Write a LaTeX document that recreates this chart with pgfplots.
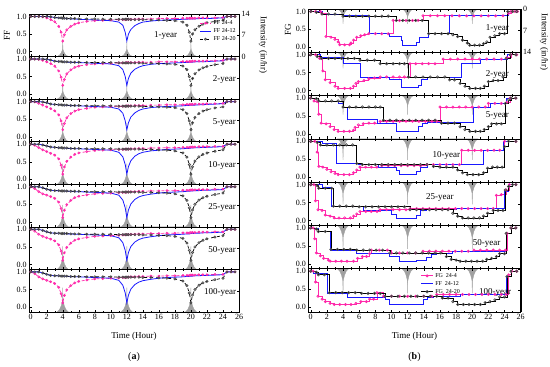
\documentclass[border=0pt]{standalone}
\usepackage{fontspec}
\setmainfont{Liberation Serif}
\usepackage{pgfplots}
\usepackage{pgfplotstable}
\pgfplotsset{compat=1.18}
\definecolor{cpink}{RGB}{255,40,170}
\definecolor{cblue}{RGB}{25,25,255}
\definecolor{crain}{RGB}{160,160,160}

% ---------------- rain hyetographs (in/hr) ----------------
\pgfplotstableread{
t I1 I2 I5 I10 I25 I50 I100
3.3 0 0 0 0 0 0 0
3.6 0.48 0.52 0.62 0.68 0.72 0.76 0.8
3.8 1.2 1.3 1.55 1.7 1.8 1.9 2.0
3.93 2.0 2.18 2.6 2.86 3.02 3.19 3.36
3.98 2.4 2.6 3.1 3.4 3.6 3.8 4.0
4 4.8 5.2 6.2 6.8 7.2 7.6 8.0
4.02 2.4 2.6 3.1 3.4 3.6 3.8 4.0
4.07 2.0 2.18 2.6 2.86 3.02 3.19 3.36
4.2 1.2 1.3 1.55 1.7 1.8 1.9 2.0
4.4 0.48 0.52 0.62 0.68 0.72 0.76 0.8
4.7 0 0 0 0 0 0 0
11.3 0 0 0 0 0 0 0
11.6 0.48 0.52 0.62 0.68 0.72 0.76 0.8
11.8 1.2 1.3 1.55 1.7 1.8 1.9 2.0
11.93 2.0 2.18 2.6 2.86 3.02 3.19 3.36
11.98 2.4 2.6 3.1 3.4 3.6 3.8 4.0
12 4.8 5.2 6.2 6.8 7.2 7.6 8.0
12.02 2.4 2.6 3.1 3.4 3.6 3.8 4.0
12.07 2.0 2.18 2.6 2.86 3.02 3.19 3.36
12.2 1.2 1.3 1.55 1.7 1.8 1.9 2.0
12.4 0.48 0.52 0.62 0.68 0.72 0.76 0.8
12.7 0 0 0 0 0 0 0
19.3 0 0 0 0 0 0 0
19.6 0.48 0.52 0.62 0.68 0.72 0.76 0.8
19.8 1.2 1.3 1.55 1.7 1.8 1.9 2.0
19.93 2.0 2.18 2.6 2.86 3.02 3.19 3.36
19.98 2.4 2.6 3.1 3.4 3.6 3.8 4.0
20 4.8 5.2 6.2 6.8 7.2 7.6 8.0
20.02 2.4 2.6 3.1 3.4 3.6 3.8 4.0
20.07 2.0 2.18 2.6 2.86 3.02 3.19 3.36
20.2 1.2 1.3 1.55 1.7 1.8 1.9 2.0
20.4 0.48 0.52 0.62 0.68 0.72 0.76 0.8
20.7 0 0 0 0 0 0 0
}\rain

% ---------------- FF (left) ----------------
\pgfplotstableread{
t p b k
0 1.00 1.00 1.00
0.5 1.00 1.00 1.00
1 1.00 1.00 1.00
1.5 0.99 1.00 1.00
2 0.96 1.00 1.00
2.5 0.91 0.99 0.99
3 0.85 0.97 0.97
3.5 0.72 0.96 0.96
3.8 0.55 0.96 0.96
4 0.30 0.95 0.95
4.2 0.48 0.95 0.95
4.5 0.62 0.94 0.94
5 0.72 0.93 0.94
5.5 0.78 0.93 0.94
6 0.82 0.92 0.93
7 0.86 0.91 0.93
8 0.88 0.90 0.93
9 0.89 0.89 0.92
10 0.90 0.88 0.92
11 0.91 0.84 0.92
11.5 0.91 0.75 0.92
11.8 0.91 0.55 0.92
12 0.92 0.30 0.92
12.2 0.92 0.50 0.92
12.5 0.92 0.63 0.91
13 0.92 0.74 0.91
13.5 0.93 0.80 0.91
14 0.93 0.84 0.91
15 0.93 0.87 0.90
16 0.94 0.89 0.90
17 0.94 0.90 0.89
18 0.94 0.91 0.88
19 0.95 0.92 0.84
19.5 0.95 0.92 0.75
19.8 0.95 0.93 0.55
20 0.95 0.93 0.30
20.2 0.95 0.93 0.50
20.5 0.95 0.93 0.62
21 0.96 0.94 0.72
21.5 0.96 0.94 0.78
22 0.96 0.94 0.82
23 0.96 0.95 0.86
24 0.97 0.96 0.89
24.5 1.00 1.00 1.00
25 1.00 1.00 1.00
25.5 1.00 1.00 1.00
}\FFa
\pgfplotstableread{
t p b k
0 1.00 1.00 1.00
0.5 1.00 1.00 1.00
1 0.99 1.00 1.00
1.5 0.96 1.00 1.00
2 0.92 0.99 0.99
2.5 0.87 0.97 0.97
3 0.80 0.94 0.94
3.5 0.66 0.93 0.93
3.8 0.48 0.93 0.93
4 0.25 0.92 0.92
4.2 0.42 0.92 0.92
4.5 0.58 0.91 0.92
5 0.69 0.91 0.91
5.5 0.76 0.90 0.91
6 0.80 0.90 0.91
7 0.84 0.89 0.90
8 0.86 0.88 0.90
9 0.87 0.87 0.90
10 0.88 0.86 0.90
11 0.89 0.81 0.89
11.5 0.89 0.70 0.89
11.8 0.89 0.50 0.89
12 0.90 0.25 0.89
12.2 0.90 0.45 0.89
12.5 0.90 0.60 0.89
13 0.90 0.71 0.89
13.5 0.91 0.77 0.89
14 0.91 0.81 0.88
15 0.91 0.85 0.88
16 0.92 0.87 0.87
17 0.92 0.88 0.86
18 0.92 0.89 0.85
19 0.93 0.90 0.80
19.5 0.93 0.90 0.70
19.8 0.93 0.91 0.50
20 0.93 0.91 0.25
20.2 0.94 0.91 0.45
20.5 0.94 0.92 0.58
21 0.94 0.92 0.69
21.5 0.94 0.92 0.75
22 0.95 0.93 0.79
23 0.95 0.94 0.84
24 0.96 0.95 0.87
24.5 1.00 1.00 1.00
25 1.00 1.00 1.00
25.5 1.00 1.00 1.00
}\FFb
\pgfplotstableread{
t p b k
0 1.00 1.00 1.00
0.5 0.99 1.00 1.00
1 0.95 1.00 1.00
1.5 0.90 0.99 0.99
2 0.85 0.97 0.97
2.5 0.80 0.93 0.93
3 0.74 0.92 0.92
3.5 0.62 0.91 0.91
3.8 0.45 0.91 0.91
4 0.20 0.90 0.90
4.2 0.38 0.90 0.90
4.5 0.54 0.89 0.90
5 0.66 0.89 0.89
5.5 0.73 0.88 0.89
6 0.77 0.88 0.89
7 0.81 0.87 0.88
8 0.84 0.86 0.88
9 0.85 0.85 0.88
10 0.86 0.84 0.88
11 0.87 0.79 0.87
11.5 0.87 0.67 0.87
11.8 0.87 0.45 0.87
12 0.88 0.20 0.87
12.2 0.88 0.40 0.87
12.5 0.88 0.56 0.87
13 0.89 0.68 0.87
13.5 0.89 0.75 0.87
14 0.89 0.79 0.86
15 0.90 0.83 0.86
16 0.90 0.85 0.85
17 0.91 0.86 0.84
18 0.91 0.87 0.83
19 0.91 0.88 0.77
19.5 0.92 0.89 0.66
19.8 0.92 0.89 0.45
20 0.92 0.90 0.20
20.2 0.92 0.90 0.40
20.5 0.93 0.90 0.55
21 0.93 0.91 0.66
21.5 0.93 0.91 0.73
22 0.94 0.92 0.77
23 0.94 0.93 0.82
24 0.95 0.94 0.85
24.5 1.00 1.00 1.00
25 1.00 1.00 1.00
25.5 1.00 1.00 1.00
}\FFc
\pgfplotstableread{
t p b k
0 1.00 1.00 1.00
0.5 0.97 1.00 1.00
1 0.90 1.00 1.00
1.5 0.84 0.98 0.98
2 0.79 0.95 0.95
2.5 0.74 0.92 0.92
3 0.69 0.91 0.91
3.5 0.58 0.90 0.90
3.8 0.40 0.90 0.90
4 0.15 0.89 0.89
4.2 0.35 0.89 0.89
4.5 0.51 0.88 0.89
5 0.63 0.88 0.88
5.5 0.71 0.87 0.88
6 0.75 0.87 0.88
7 0.79 0.86 0.87
8 0.82 0.85 0.87
9 0.83 0.84 0.87
10 0.84 0.83 0.87
11 0.85 0.77 0.86
11.5 0.85 0.64 0.86
11.8 0.86 0.42 0.86
12 0.86 0.15 0.86
12.2 0.86 0.36 0.86
12.5 0.87 0.53 0.86
13 0.87 0.66 0.86
13.5 0.88 0.73 0.86
14 0.88 0.77 0.85
15 0.89 0.81 0.85
16 0.89 0.83 0.84
17 0.90 0.85 0.83
18 0.90 0.86 0.81
19 0.91 0.87 0.75
19.5 0.91 0.88 0.63
19.8 0.91 0.88 0.42
20 0.92 0.89 0.15
20.2 0.92 0.89 0.36
20.5 0.92 0.90 0.52
21 0.93 0.90 0.64
21.5 0.93 0.91 0.71
22 0.93 0.91 0.75
23 0.94 0.92 0.80
24 0.94 0.93 0.84
24.5 1.00 1.00 1.00
25 1.00 1.00 1.00
25.5 1.00 1.00 1.00
}\FFd
\pgfplotstableread{
t p b k
0 1.00 1.00 1.00
0.5 0.95 1.00 1.00
1 0.86 1.00 1.00
1.5 0.80 0.97 0.97
2 0.76 0.93 0.93
2.5 0.72 0.90 0.90
3 0.67 0.89 0.89
3.5 0.56 0.89 0.89
3.8 0.38 0.88 0.88
4 0.12 0.88 0.88
4.2 0.33 0.88 0.88
4.5 0.49 0.87 0.88
5 0.61 0.87 0.87
5.5 0.69 0.86 0.87
6 0.73 0.86 0.87
7 0.77 0.85 0.86
8 0.80 0.84 0.86
9 0.81 0.83 0.86
10 0.82 0.82 0.86
11 0.83 0.76 0.85
11.5 0.84 0.62 0.85
11.8 0.84 0.40 0.85
12 0.85 0.12 0.85
12.2 0.85 0.34 0.85
12.5 0.86 0.51 0.85
13 0.86 0.64 0.85
13.5 0.87 0.71 0.85
14 0.87 0.75 0.84
15 0.88 0.79 0.84
16 0.88 0.82 0.83
17 0.89 0.84 0.82
18 0.89 0.85 0.80
19 0.90 0.86 0.74
19.5 0.90 0.87 0.61
19.8 0.90 0.87 0.40
20 0.91 0.88 0.12
20.2 0.91 0.88 0.34
20.5 0.91 0.89 0.50
21 0.92 0.89 0.62
21.5 0.92 0.90 0.69
22 0.92 0.90 0.73
23 0.93 0.91 0.78
24 0.93 0.92 0.82
24.5 1.00 1.00 1.00
25 1.00 1.00 1.00
25.5 1.00 1.00 1.00
}\FFe

% ---------------- FG (right), step series ----------------
% 1-year
\pgfplotstableread{
t y
0 1.0
0.6 1.0
1.2 1.0
1.4 0.94
1.9 0.30
2.5 0.28
3.0 0.22
3.4 0.15
3.6 0.07
4.2 0.07
4.8 0.07
5.0 0.12
5.3 0.20
5.7 0.28
6.2 0.32
6.7 0.35
7.2 0.38
8.0 0.38
8.8 0.38
9.6 0.38
10.2 0.75
11.0 0.75
11.8 0.75
12.6 0.75
13.3 0.75
13.9 0.88
14.8 0.88
15.7 0.88
16.6 0.88
17.5 0.88
18.4 0.88
19.3 0.88
20.2 0.88
21.1 0.88
22.0 0.88
22.9 0.88
23.8 0.88
24.5 0.95
24.8 1.0
25.3 1.0
25.6 1.0
}\RpA
\pgfplotstableread{
t y
0 1.0
1.5 0.92
4.0 0.90
7.3 0.38
9.8 0.30
11.2 0.20
11.4 0.06
13.1 0.15
13.5 0.27
14.6 0.38
17.2 0.88
24.5 1.0
25.6 1.0
}\RbA
\pgfplotstableread{
t y
0 1.0
0.7 0.98
1.4 0.93
2.2 0.93
3.0 0.93
4.0 0.87
4.8 0.87
5.6 0.87
6.4 0.87
7.2 0.87
8.0 0.87
8.8 0.87
9.6 0.87
10.6 0.75
11.4 0.75
12.2 0.75
13.0 0.75
13.8 0.75
14.6 0.38
15.4 0.38
16.2 0.38
17.0 0.38
17.6 0.35
18.2 0.30
18.8 0.20
19.4 0.12
19.7 0.06
20.3 0.06
20.9 0.06
21.4 0.10
21.8 0.15
22.2 0.28
22.8 0.32
23.4 0.38
24.0 0.38
24.4 1.0
25.0 1.0
25.5 1.0
}\RkA
% 2-year
\pgfplotstableread{
t y
0 1.0
0.6 1.0
1.1 0.90
1.5 0.55
1.8 0.30
2.4 0.22
3.0 0.12
3.4 0.06
4.2 0.06
4.9 0.06
5.3 0.12
5.6 0.20
5.9 0.25
6.6 0.28
7.2 0.33
7.9 0.35
8.6 0.38
9.4 0.38
10.2 0.38
11.0 0.38
11.6 0.38
12.3 0.75
13.0 0.75
13.8 0.75
14.6 0.75
15.4 0.75
16.4 0.88
17.3 0.88
18.2 0.88
19.1 0.88
20.0 0.88
20.9 0.88
21.8 0.88
22.7 0.88
23.6 0.88
24.3 0.92
24.8 1.0
25.5 1.0
}\RpB
\pgfplotstableread{
t y
0 1.0
1.2 0.92
4.0 0.75
6.1 0.38
9.8 0.30
11.2 0.08
13.3 0.15
13.7 0.30
14.4 0.38
18.7 0.75
21.0 0.88
24.3 1.0
25.5 1.0
}\RbB
\pgfplotstableread{
t y
0 1.0
0.8 0.95
1.3 0.90
2.2 0.90
3.0 0.90
3.8 0.90
4.6 0.90
5.4 0.90
6.1 0.85
7.0 0.85
7.9 0.85
8.6 0.75
9.4 0.75
10.2 0.75
11.0 0.75
11.6 0.75
12.1 0.38
13.0 0.38
13.9 0.38
14.8 0.38
15.7 0.38
16.6 0.38
17.2 0.30
17.8 0.30
18.5 0.20
19.1 0.12
19.7 0.06
20.4 0.06
21.0 0.06
21.5 0.12
22.0 0.25
22.6 0.28
23.2 0.28
23.8 0.38
24.2 0.90
24.7 1.0
25.4 1.0
}\RkB
% 5-year
\pgfplotstableread{
t y
0 1.0
0.4 0.92
0.8 0.90
1.0 0.55
1.3 0.30
1.9 0.28
2.4 0.20
2.9 0.12
3.4 0.07
4.1 0.07
4.8 0.07
5.3 0.10
5.5 0.18
5.9 0.25
6.5 0.28
7.2 0.30
7.9 0.30
8.6 0.35
9.4 0.35
10.2 0.35
11.0 0.35
11.8 0.35
12.6 0.35
13.4 0.35
14.2 0.35
15.0 0.35
15.6 0.35
16.0 0.75
16.8 0.75
17.6 0.75
18.4 0.75
19.2 0.75
20.0 0.75
20.8 0.75
21.6 0.75
22.0 0.85
22.8 0.85
23.6 0.85
24.3 0.88
24.7 1.0
25.4 1.0
}\RpC
\pgfplotstableread{
t y
0 1.0
1.0 0.92
3.4 0.85
4.0 0.75
4.5 0.40
8.2 0.30
10.6 0.07
13.3 0.20
13.8 0.30
14.5 0.32
20.1 0.75
22.2 0.85
24.2 1.0
25.4 1.0
}\RbC
\pgfplotstableread{
t y
0 1.0
0.7 0.98
1.0 0.92
1.8 0.92
2.6 0.92
3.4 0.92
4.0 0.75
4.8 0.75
5.6 0.75
6.4 0.75
7.2 0.75
8.0 0.75
8.6 0.75
9.0 0.38
9.8 0.38
10.6 0.38
11.4 0.38
12.2 0.38
13.0 0.38
13.8 0.38
14.6 0.38
15.4 0.38
16.2 0.30
17.0 0.30
17.8 0.30
18.5 0.20
19.1 0.12
19.7 0.07
20.4 0.07
21.0 0.07
21.5 0.12
22.0 0.20
22.4 0.28
23.0 0.28
23.6 0.28
24.1 0.85
24.5 0.95
24.8 1.0
25.4 1.0
}\RkC
% 10-year
\pgfplotstableread{
t y
0 1.0
0.5 1.0
0.8 0.70
1.0 0.30
1.5 0.28
2.0 0.22
2.5 0.15
3.0 0.10
3.4 0.07
4.1 0.07
4.8 0.07
5.3 0.12
5.7 0.20
6.1 0.28
6.8 0.28
7.5 0.28
8.2 0.28
8.8 0.32
9.6 0.32
10.4 0.32
11.2 0.32
12.0 0.32
12.8 0.32
13.6 0.32
14.4 0.35
15.2 0.35
16.0 0.35
16.8 0.35
17.6 0.35
18.4 0.35
18.7 0.75
19.5 0.75
20.3 0.75
21.1 0.75
21.9 0.75
22.7 0.75
23.4 0.75
24.0 1.0
25.4 1.0
}\RpD
\pgfplotstableread{
t y
0 1.0
1.5 0.95
3.2 0.38
5.9 0.35
8.4 0.28
10.6 0.20
11.0 0.07
13.1 0.15
13.6 0.28
14.4 0.35
21.4 0.75
23.8 1.0
25.4 1.0
}\RbD
\pgfplotstableread{
t y
0 1.0
0.8 0.97
1.2 0.90
2.0 0.90
2.8 0.90
3.6 0.90
4.4 0.90
5.2 0.90
5.7 0.38
6.4 0.35
7.2 0.35
8.0 0.35
8.8 0.35
9.6 0.35
10.4 0.35
11.2 0.35
12.0 0.35
12.8 0.35
13.6 0.35
14.4 0.35
15.2 0.30
16.0 0.28
16.8 0.28
17.6 0.28
18.2 0.20
18.8 0.12
19.4 0.07
20.1 0.07
20.8 0.07
21.4 0.12
21.9 0.25
22.5 0.28
23.1 0.28
23.7 0.28
24.0 0.85
24.5 1.0
25.4 1.0
}\RkD
% 25-year
\pgfplotstableread{
t y
0 1.0
0.4 1.0
0.6 0.55
0.9 0.30
1.4 0.28
1.8 0.15
2.4 0.12
2.9 0.07
3.5 0.07
4.2 0.07
4.9 0.07
5.3 0.12
5.7 0.18
6.1 0.25
6.8 0.25
7.5 0.25
8.2 0.25
8.6 0.30
9.4 0.30
10.2 0.30
11.0 0.30
11.8 0.30
12.3 0.33
13.1 0.33
13.9 0.33
14.7 0.33
15.5 0.33
16.3 0.33
17.1 0.33
17.9 0.33
18.7 0.33
19.5 0.33
20.3 0.33
21.1 0.33
21.9 0.33
22.6 0.33
23.0 0.70
23.6 0.72
24.2 0.85
24.6 1.0
25.4 1.0
}\RpE
\pgfplotstableread{
t y
0 1.0
1.5 0.92
2.6 0.38
6.5 0.28
10.0 0.18
10.6 0.07
13.1 0.15
13.6 0.28
14.3 0.30
18.0 0.35
24.0 0.80
24.5 1.0
25.4 1.0
}\RbE
\pgfplotstableread{
t y
0 1.0
0.8 0.97
1.0 0.90
1.8 0.90
2.6 0.90
2.8 0.40
3.6 0.40
4.4 0.40
5.2 0.40
6.0 0.38
6.8 0.38
7.6 0.38
8.4 0.38
9.2 0.38
10.0 0.38
10.8 0.38
11.6 0.38
12.3 0.30
13.1 0.30
13.9 0.30
14.7 0.30
15.5 0.30
16.3 0.30
17.0 0.30
17.6 0.20
18.2 0.12
18.8 0.07
19.5 0.07
20.2 0.07
20.9 0.07
21.4 0.12
21.9 0.20
22.6 0.28
23.2 0.28
23.8 0.28
24.1 0.85
24.5 0.95
25.0 1.0
25.4 1.0
}\RkE
% 50-year
\pgfplotstableread{
t y
0 1.0
0.3 1.0
0.5 0.70
0.7 0.30
1.2 0.22
1.6 0.15
2.2 0.10
2.4 0.07
3.1 0.07
3.8 0.07
4.5 0.07
5.3 0.07
5.8 0.15
6.4 0.20
6.9 0.20
7.3 0.28
7.5 0.38
8.5 0.38
9.5 0.38
10.0 0.30
11.0 0.30
12.0 0.30
13.0 0.30
13.9 0.35
14.7 0.35
15.5 0.35
16.3 0.35
17.1 0.35
17.9 0.35
18.7 0.35
19.5 0.35
20.2 0.38
21.0 0.38
21.8 0.38
22.6 0.38
23.4 0.38
24.1 0.38
24.3 0.85
24.8 1.0
25.4 1.0
}\RpF
\pgfplotstableread{
t y
0 1.0
1.0 0.90
2.4 0.38
5.7 0.30
9.8 0.20
11.0 0.07
13.1 0.10
14.3 0.18
15.0 0.25
15.6 0.30
17.5 0.35
24.2 0.85
24.8 1.0
25.4 1.0
}\RbF
\pgfplotstableread{
t y
0 1.0
0.7 0.97
0.95 0.90
1.8 0.90
2.5 0.40
3.3 0.40
4.1 0.40
4.9 0.40
5.7 0.38
6.5 0.38
7.3 0.38
8.1 0.38
8.9 0.38
9.8 0.30
10.6 0.30
11.4 0.30
12.2 0.30
13.0 0.30
13.8 0.30
14.6 0.30
15.4 0.30
16.1 0.30
16.8 0.20
17.4 0.12
18.0 0.10
18.5 0.07
19.2 0.07
19.9 0.07
20.6 0.07
21.3 0.07
21.8 0.12
22.4 0.15
23.0 0.20
23.4 0.28
24.0 0.28
24.2 0.85
24.8 1.0
25.4 1.0
}\RkF
% 100-year
\pgfplotstableread{
t y
0 1.0
0.3 1.0
0.6 0.70
0.9 0.30
1.4 0.22
1.8 0.15
2.4 0.10
2.9 0.07
3.6 0.07
4.3 0.07
5.0 0.07
5.6 0.10
6.2 0.15
6.9 0.15
7.3 0.22
7.8 0.22
8.2 0.40
9.0 0.30
10.0 0.30
11.0 0.30
12.0 0.30
13.0 0.30
14.0 0.30
15.0 0.30
15.6 0.35
16.4 0.35
17.2 0.35
18.0 0.35
18.8 0.35
19.6 0.35
20.4 0.35
21.2 0.35
22.0 0.35
22.8 0.35
23.6 0.35
24.2 0.35
24.5 0.90
24.9 1.0
25.5 1.0
}\RpG
\pgfplotstableread{
t y
0 1.0
0.3 0.95
2.1 0.38
4.5 0.28
9.2 0.20
9.8 0.07
13.9 0.20
14.4 0.28
15.2 0.30
18.5 0.35
24.2 0.85
24.8 1.0
25.5 1.0
}\RbG
\pgfplotstableread{
t y
0 1.0
0.7 0.97
0.95 0.90
1.7 0.90
2.3 0.40
3.1 0.40
3.9 0.40
4.7 0.40
5.5 0.40
6.3 0.38
7.1 0.38
7.9 0.38
8.6 0.38
9.2 0.30
10.0 0.30
10.8 0.30
11.6 0.30
12.4 0.30
13.2 0.30
14.0 0.30
14.8 0.30
15.6 0.30
16.3 0.25
17.0 0.25
17.6 0.15
18.2 0.07
18.9 0.07
19.6 0.07
20.3 0.07
21.0 0.07
21.6 0.12
22.2 0.15
22.8 0.20
23.4 0.28
24.0 0.28
24.3 0.85
24.8 1.0
25.5 1.0
}\RkG

\pgfplotsset{
  panel/.style={scale only axis, anchor=south west,
    ymin=-0.14, ymax=1.07, ytick={0,0.5,1}, yticklabels={0.0,0.5,1.0},
    xtick={0,2,...,26}, minor x tick num=1, xticklabels={},
    tick align=inside, major tick length=2.5pt, minor tick length=1.5pt,
    ytick pos=left, xtick pos=both,
    tick label style={font=\fontsize{8}{8}\selectfont, inner sep=0.3pt},
    yticklabel style={xshift=-2pt},
    xticklabel style={yshift=-2pt},
    /pgf/number format/assume math mode=true,
    axis line style={line width=0.5pt},
    every tick/.style={black, line width=0.4pt},
    axis on top,
    legend cell align=left,
    legend image code/.code={\draw[mark repeat=2,mark phase=2,##1] plot coordinates {(0cm,0cm) (0.2cm,0cm) (0.4cm,0cm)};},
    legend style={draw=none, fill=none, font=\fontsize{6}{6}\selectfont, inner sep=0pt, row sep=-1.5pt},
  },
  Lpanel/.style={panel, width=209.9pt, height=42.57pt, xmin=-0.2, xmax=26},
  Rpanel/.style={panel, width=212.4pt, height=43.29pt, xmin=-0.3, xmax=26},
  rainax/.style={scale only axis, anchor=south west, axis x line=none, axis y line*=right,
    ymin=0, ymax=14, ytick={0,7,14}, yticklabels={}, tick align=inside,
    major tick length=2.5pt,
    tick label style={font=\fontsize{8}{8}\selectfont, inner sep=0.3pt},
    yticklabel style={xshift=2pt},
    /pgf/number format/assume math mode=true,
    every tick/.style={black, line width=0.4pt}},
  LrainAx/.style={rainax, width=209.9pt, height=42.57pt, xmin=-0.2, xmax=26},
  RrainAx/.style={rainax, width=212.4pt, height=43.29pt, xmin=-0.3, xmax=26, y dir=reverse},
  rainfill/.style={fill=crain, draw=crain, line width=0.35pt},
  pinkL/.style={cpink, densely dashed, line width=0.7pt, mark=o, mark size=1.0pt, mark options={solid, fill=white}},
  blueL/.style={cblue, line width=0.8pt},
  blackL/.style={black, dashed, line width=0.7pt, mark=o, mark size=1.1pt, mark options={solid, fill=white, draw=black!70}},
  pinkR/.style={cpink, const plot, line width=0.75pt, mark=o, mark size=1.1pt, mark options={solid, fill=white}},
  blueR/.style={cblue, const plot, line width=0.8pt},
  blackR/.style={black, const plot, line width=0.7pt, mark=o, mark size=1.2pt, mark options={solid, fill=white, draw=black!70}},
}

% #1 bottom y, #2 table, #3 rain column, #4 main opts, #5 rain opts, #6 label, #7 label pos
\newcommand{\LP}[7]{%
  \begin{axis}[LrainAx, at={(29.1pt,-#1pt)}, #5]
    \addplot[rainfill] table[x=t,y=#3]{\rain} \closedcycle;
  \end{axis}
  \begin{axis}[Lpanel, at={(29.1pt,-#1pt)}, #4]
    \addplot[pinkL] table[x=t,y=p]{#2};
    \addplot[blueL] table[x=t,y=b]{#2};
    \addplot[blackL] table[x=t,y=k]{#2};
    \node[font=\fontsize{9}{9}\selectfont] at (rel axis cs:#7) {#6};
  \end{axis}}
% #1 bottom y, #2 pink, #3 blue, #4 black, #5 rain col, #6 main opts, #7 rain opts, #8 label, #9 pos
\newcommand{\RP}[9]{%
  \begin{axis}[RrainAx, at={(308.3pt,-#1pt)}, #7]
    \addplot[rainfill] table[x=t,y=#5]{\rain} \closedcycle;
  \end{axis}
  \begin{axis}[Rpanel, at={(308.3pt,-#1pt)}, #6]
    \addplot[pinkR] table[x=t,y=y]{#2};
    \addplot[blueR] table[x=t,y=y]{#3};
    \addplot[blackR] table[x=t,y=y]{#4};
    \node[font=\fontsize{9}{9}\selectfont] at (rel axis cs:#9) {#8};
  \end{axis}}

\begin{document}
\begin{tikzpicture}
% ---------- left (a) ----------
\LP{56.57}{\FFa}{I1}{legend entries={FF 24-4,FF 24-12,FF 24-20}, legend style={at={(0.995,0.9)}, anchor=north east}}{yticklabels={0,7,14}}{1-year}{0.65,0.5}
\LP{99.14}{\FFb}{I2}{}{}{2-year}{0.93,0.45}
\LP{141.71}{\FFc}{I5}{}{}{5-year}{0.93,0.45}
\LP{184.29}{\FFd}{I10}{}{}{10-year}{0.92,0.45}
\LP{226.86}{\FFe}{I25}{}{}{25-year}{0.92,0.45}
\LP{269.43}{\FFe}{I50}{}{}{50-year}{0.92,0.45}
\LP{312}{\FFe}{I100}{xticklabels={0,2,4,6,8,10,12,14,16,18,20,22,24,26}}{}{100-year}{0.91,0.45}
% ---------- right (b) ----------
\RP{52.29}{\RpA}{\RbA}{\RkA}{I1}{}{yticklabels={0,7,14}}{1-year}{0.89,0.56}
\RP{95.57}{\RpB}{\RbB}{\RkB}{I2}{}{}{2-year}{0.89,0.48}
\RP{138.86}{\RpC}{\RbC}{\RkC}{I5}{}{}{5-year}{0.89,0.53}
\RP{182.14}{\RpD}{\RbD}{\RkD}{I10}{}{}{10-year}{0.65,0.62}
\RP{225.43}{\RpE}{\RbE}{\RkE}{I25}{}{}{25-year}{0.62,0.65}
\RP{268.71}{\RpF}{\RbF}{\RkF}{I50}{}{}{50-year}{0.84,0.58}
\RP{312}{\RpG}{\RbG}{\RkG}{I100}{xticklabels={0,2,4,6,8,10,12,14,16,18,20,22,24,26}, legend entries={FG\ \ 24-4,FF\ \ 24-12,FG\ \ 24-20}, legend style={at={(0.53,0.95)}, anchor=north west}}{}{100-year}{0.88,0.45}
% ---------- labels ----------
\node[rotate=90, font=\fontsize{9}{9}\selectfont] at (7pt,-35pt) {FF};
\node[rotate=90, font=\fontsize{9}{9}\selectfont] at (288pt,-30pt) {FG};
\node[rotate=-90, font=\fontsize{9}{9}\selectfont] at (263pt,-45pt) {Intensity (in/hr)};
\node[rotate=-90, font=\fontsize{9}{9}\selectfont] at (544pt,-42pt) {Intensity (in/hr)};
\node[font=\fontsize{9}{9}\selectfont] at (134pt,-336pt) {Time (Hour)};
\node[font=\fontsize{9}{9}\selectfont] at (414.5pt,-336pt) {Time (Hour)};
\node[font=\fontsize{10}{10}\selectfont] at (134pt,-357pt) {(\textbf{a})};
\node[font=\fontsize{10}{10}\selectfont] at (414.5pt,-357pt) {(\textbf{b})};
\pgfresetboundingbox
\useasboundingbox (0,0) rectangle (550pt,-367pt);
\end{tikzpicture}
\end{document}
